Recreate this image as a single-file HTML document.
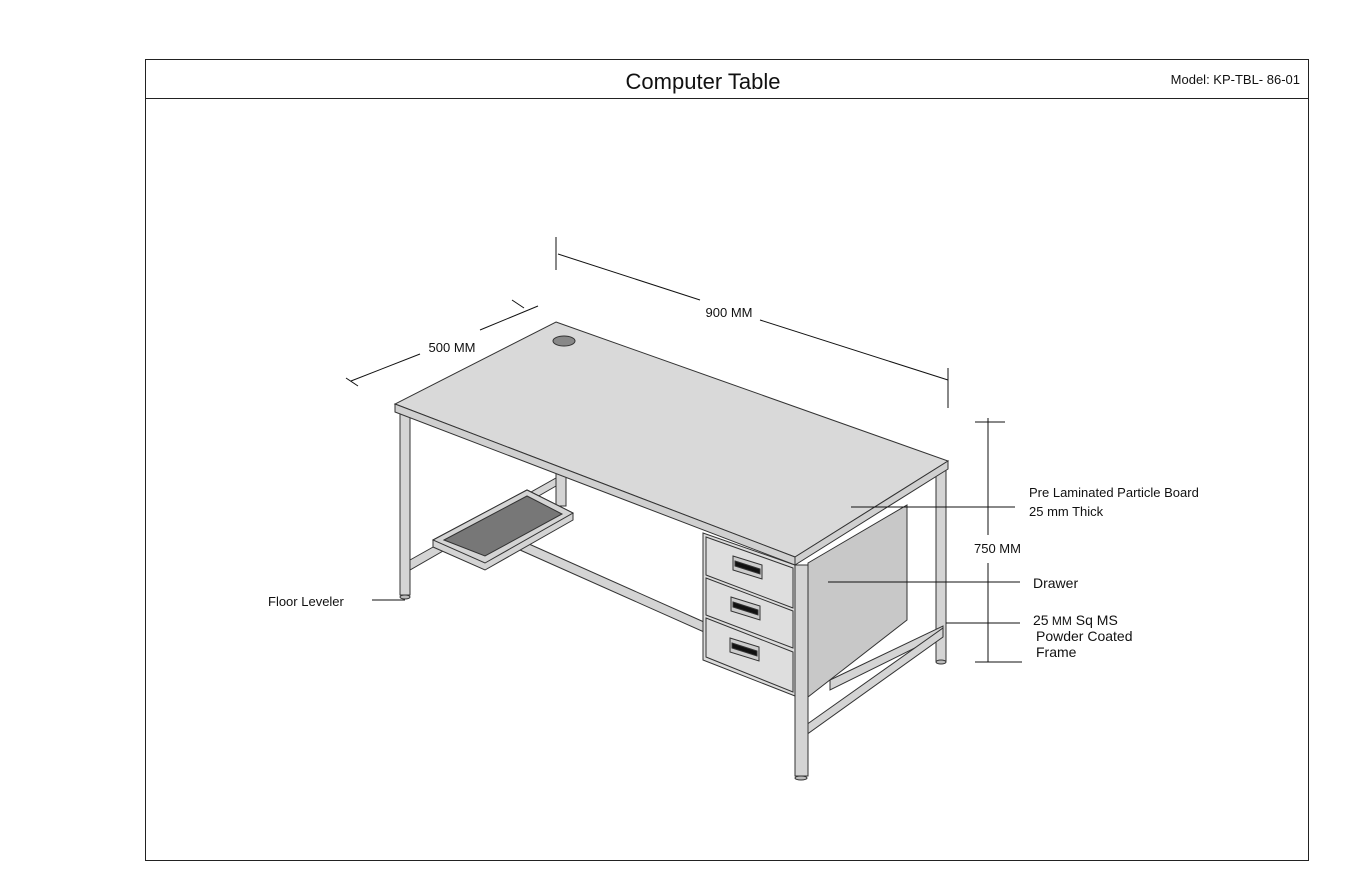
<!DOCTYPE html>
<html><head><meta charset="utf-8"><style>
html,body{margin:0;padding:0;background:#fff;}
svg{display:block;}
text{font-family:"Liberation Sans",sans-serif;fill:#111;}
</style></head><body>
<svg width="1360" height="884" viewBox="0 0 1360 884" xmlns="http://www.w3.org/2000/svg">
<rect x="145.5" y="59.5" width="1163" height="801" fill="#fff" stroke="#222" stroke-width="1"/>
<line x1="145" y1="98.5" x2="1308" y2="98.5" stroke="#222"/>
<text x="703" y="89" font-size="22" text-anchor="middle">Computer Table</text>
<text x="1300" y="84" font-size="13" text-anchor="end">Model: KP-TBL- 86-01</text>

<g stroke="#333" stroke-width="1">
<!-- back-left leg -->
<rect x="556" y="470" width="10" height="36" fill="#d4d4d4"/>
<!-- left side bottom stretcher -->
<polygon points="410,560 556,478 556,486 410,570" fill="#d4d4d4"/>
<!-- long stretcher -->
<polygon points="520,540 704,622 704,632 520,550" fill="#d4d4d4"/>
<!-- back right leg -->
<rect x="936" y="469" width="10" height="192" fill="#d4d4d4"/>
<ellipse cx="941" cy="662" rx="5" ry="2" fill="#bbb"/>
<!-- right side stretchers -->
<polygon points="830,680 943,626 943,634 830,690" fill="#d4d4d4"/>
<polygon points="806,725 943,628 943,637 806,735" fill="#d4d4d4"/>
<!-- side panel -->
<polygon points="808,563 907,505 907,620 808,697" fill="#c8c8c8"/>
<!-- drawer fronts -->
<polygon points="703,533 795,565 795,696 703,660" fill="#dcdcdc"/>
<polygon points="706,537 793,568 793,608 706,575" fill="#dedede"/>
<polygon points="706,578 793,611 793,648 706,615" fill="#dedede"/>
<polygon points="706,618 793,652 793,692 706,657" fill="#dedede"/>
<polygon points="733,556 762,565 762,579 733,570" fill="#ccc"/>
<polygon points="735,561 760,569 760,574 735,566" fill="#111"/>
<polygon points="731,597 760,606 760,620 731,611" fill="#ccc"/>
<polygon points="733,602 758,610 758,615 733,607" fill="#111"/>
<polygon points="730,638 759,647 759,661 730,652" fill="#ccc"/>
<polygon points="732,643 757,651 757,656 732,648" fill="#111"/>
<!-- front right leg -->
<rect x="795" y="565" width="13" height="211" fill="#d4d4d4"/>
<ellipse cx="801" cy="778" rx="6" ry="2" fill="#bbb"/>
<!-- front left leg -->
<rect x="400" y="412" width="10" height="183" fill="#d4d4d4"/>
<ellipse cx="405" cy="597" rx="5" ry="2" fill="#bbb"/>
<!-- keyboard tray -->
<polygon points="433,540 527,490 573,513 573,520 485,570 433,547" fill="#d4d4d4"/>
<polygon points="433,540 527,490 573,513 485,563" fill="#d4d4d4"/>
<polygon points="444,540 527,496 562,514 485,556" fill="#777"/>
<!-- table top -->
<polygon points="556,322 948,461 795,557 395,404" fill="#d9d9d9"/>
<polygon points="395,404 795,557 795,565 395,412" fill="#d0d0d0"/>
<polygon points="795,557 948,461 948,469 795,565" fill="#d0d0d0"/>
<ellipse cx="564" cy="341" rx="11" ry="5" fill="#888"/>
</g>

<!-- dimension lines -->
<g stroke="#111" stroke-width="1" fill="none">
<line x1="556" y1="237" x2="556" y2="270"/>
<line x1="558" y1="254" x2="700" y2="300"/>
<line x1="760" y1="320" x2="948" y2="380"/>
<line x1="948" y1="368" x2="948" y2="408"/>
<line x1="351" y1="381" x2="420" y2="354"/>
<line x1="480" y1="330" x2="538" y2="306"/>
<line x1="346" y1="378" x2="358" y2="386"/>
<line x1="512" y1="300" x2="524" y2="308"/>
<line x1="988" y1="418" x2="988" y2="535"/>
<line x1="988" y1="563" x2="988" y2="662"/>
<line x1="975" y1="422" x2="1005" y2="422"/>
<line x1="975" y1="662" x2="1022" y2="662"/>
<line x1="851" y1="507" x2="1015" y2="507"/>
<line x1="828" y1="582" x2="1020" y2="582"/>
<line x1="946" y1="623" x2="1020" y2="623"/>
<line x1="372" y1="600" x2="405" y2="600"/>
</g>
<text x="729" y="317" font-size="13" text-anchor="middle">900 MM</text>
<text x="452" y="352" font-size="13" text-anchor="middle">500 MM</text>
<text x="974" y="553" font-size="13">750 MM</text>
<text x="1029" y="497" font-size="13">Pre Laminated Particle Board</text>
<text x="1029" y="516" font-size="13">25 mm Thick</text>
<text x="1033" y="588" font-size="14">Drawer</text>
<text x="1033" y="625" font-size="14">25<tspan font-size="12"> MM</tspan> Sq MS</text>
<text x="1036" y="641" font-size="14">Powder Coated</text>
<text x="1036" y="657" font-size="14">Frame</text>
<text x="268" y="606" font-size="13">Floor Leveler</text>
</svg>
</body></html>
